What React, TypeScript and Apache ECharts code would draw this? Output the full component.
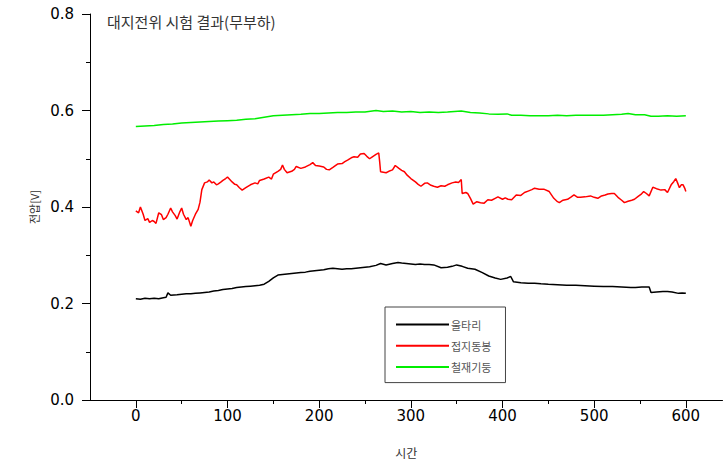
import React, { useEffect, useRef } from "react";
import * as echarts from "echarts";

const chartTitle = "대지전위 시험 결과(무부하)";
const seriesNames = ["울타리", "접지동봉", "철재기둥"];
const xAxisName = "시간";
const yAxisName = "전압[V]";
const xMajorTicks = [0, 100, 200, 300, 400, 500, 600];
const xMinorTicks = [50, 150, 250, 350, 450, 550];

// 울타리 (black)
const fenceData: [number, number][] = [
  [0, 0.21], [5, 0.209], [10, 0.211], [15, 0.21], [20, 0.211], [25, 0.21], [30, 0.212], [33, 0.213],
  [35, 0.222], [38, 0.217], [45, 0.218], [50, 0.219], [55, 0.22], [60, 0.22], [65, 0.221], [70, 0.222],
  [75, 0.223], [80, 0.224], [85, 0.226], [90, 0.227], [95, 0.229], [100, 0.23], [105, 0.231], [110, 0.233],
  [115, 0.234], [120, 0.235], [125, 0.236], [130, 0.237], [135, 0.238], [140, 0.24], [145, 0.246],
  [150, 0.253], [155, 0.259], [160, 0.26], [165, 0.261], [170, 0.262], [175, 0.263], [180, 0.264],
  [185, 0.265], [190, 0.267], [195, 0.268], [200, 0.269], [205, 0.27], [210, 0.272], [215, 0.273],
  [220, 0.272], [225, 0.271], [230, 0.272], [235, 0.272], [240, 0.273], [245, 0.274], [250, 0.275],
  [255, 0.276], [262, 0.279], [267, 0.283], [273, 0.28], [280, 0.283], [286, 0.285], [290, 0.284],
  [295, 0.283], [300, 0.282], [305, 0.281], [310, 0.282], [315, 0.281], [320, 0.281], [325, 0.28],
  [333, 0.274], [340, 0.275], [345, 0.277], [350, 0.28], [356, 0.277], [362, 0.273], [370, 0.271],
  [378, 0.264], [385, 0.257], [392, 0.253], [398, 0.25], [405, 0.253], [409, 0.256], [412, 0.245],
  [420, 0.243], [428, 0.242], [435, 0.242], [442, 0.241], [450, 0.24], [460, 0.239], [470, 0.238],
  [480, 0.238], [490, 0.237], [500, 0.236], [510, 0.235], [520, 0.235], [530, 0.234], [540, 0.233],
  [545, 0.233], [552, 0.234], [560, 0.234], [562, 0.223], [568, 0.224], [575, 0.225], [580, 0.225],
  [585, 0.224], [592, 0.221], [596, 0.222], [600, 0.221],
];

// 접지동봉 (red)
const rodData: [number, number][] = [
  [0, 0.392], [3, 0.388], [5, 0.4], [8, 0.385], [10, 0.372], [13, 0.376], [15, 0.368], [18, 0.372],
  [20, 0.37], [22, 0.366], [25, 0.388], [28, 0.384], [30, 0.374], [33, 0.378], [35, 0.385], [38, 0.398],
  [40, 0.39], [43, 0.382], [45, 0.375], [48, 0.39], [50, 0.398], [52, 0.385], [55, 0.374], [57, 0.378],
  [60, 0.36], [62, 0.372], [65, 0.385], [68, 0.395], [70, 0.41], [72, 0.436], [75, 0.45], [78, 0.452],
  [80, 0.456], [83, 0.45], [85, 0.452], [88, 0.446], [90, 0.448], [93, 0.452], [95, 0.455], [98, 0.459],
  [100, 0.462], [103, 0.456], [105, 0.452], [108, 0.447], [110, 0.446], [113, 0.44], [116, 0.435],
  [120, 0.44], [125, 0.446], [130, 0.45], [133, 0.448], [135, 0.455], [140, 0.458], [145, 0.462],
  [148, 0.458], [150, 0.468], [155, 0.474], [158, 0.478], [160, 0.487], [162, 0.478], [165, 0.471],
  [170, 0.474], [173, 0.478], [175, 0.484], [180, 0.48], [185, 0.483], [190, 0.488], [193, 0.492],
  [196, 0.486], [200, 0.485], [205, 0.483], [208, 0.478], [211, 0.477], [215, 0.482], [220, 0.489],
  [225, 0.49], [228, 0.494], [231, 0.497], [235, 0.502], [238, 0.504], [242, 0.503], [245, 0.51],
  [249, 0.511], [252, 0.505], [255, 0.5], [258, 0.504], [262, 0.509], [265, 0.512], [266, 0.494],
  [267, 0.473], [270, 0.472], [273, 0.471], [276, 0.474], [280, 0.477], [283, 0.486], [287, 0.48],
  [290, 0.476], [293, 0.473], [296, 0.466], [300, 0.459], [305, 0.452], [308, 0.447], [311, 0.443],
  [315, 0.449], [318, 0.45], [322, 0.445], [325, 0.443], [329, 0.441], [333, 0.444], [337, 0.443],
  [340, 0.446], [345, 0.45], [349, 0.452], [352, 0.451], [355, 0.457], [356, 0.428], [360, 0.43],
  [362, 0.428], [365, 0.418], [368, 0.406], [372, 0.411], [376, 0.409], [380, 0.408], [384, 0.415],
  [388, 0.414], [392, 0.418], [395, 0.421], [400, 0.416], [403, 0.419], [406, 0.416], [410, 0.415],
  [415, 0.425], [420, 0.424], [424, 0.43], [428, 0.433], [432, 0.436], [435, 0.439], [440, 0.437],
  [445, 0.437], [451, 0.432], [456, 0.418], [460, 0.411], [462, 0.409], [466, 0.414], [471, 0.416],
  [475, 0.421], [478, 0.425], [482, 0.42], [485, 0.42], [490, 0.421], [496, 0.423], [500, 0.42],
  [504, 0.418], [508, 0.423], [512, 0.425], [515, 0.427], [519, 0.428], [522, 0.428], [526, 0.42],
  [530, 0.414], [533, 0.409], [537, 0.412], [541, 0.414], [544, 0.416], [548, 0.422], [551, 0.426],
  [554, 0.432], [557, 0.428], [560, 0.423], [564, 0.441], [568, 0.438], [573, 0.435], [577, 0.436],
  [580, 0.43], [584, 0.446], [587, 0.453], [589, 0.459], [591, 0.45], [593, 0.44], [595, 0.446],
  [597, 0.446], [599, 0.438], [600, 0.432],
];

// 철재기둥 (green)
const poleData: [number, number][] = [
  [0, 0.567], [10, 0.568], [20, 0.569], [30, 0.571], [40, 0.572], [50, 0.574], [60, 0.575], [70, 0.576],
  [80, 0.577], [90, 0.578], [100, 0.579], [110, 0.58], [120, 0.582], [130, 0.583], [140, 0.586],
  [150, 0.589], [160, 0.59], [170, 0.591], [180, 0.592], [190, 0.594], [200, 0.594], [210, 0.595],
  [220, 0.596], [230, 0.596], [240, 0.597], [250, 0.597], [262, 0.6], [270, 0.598], [280, 0.599],
  [290, 0.597], [300, 0.598], [310, 0.596], [320, 0.597], [330, 0.596], [340, 0.597], [355, 0.599],
  [365, 0.596], [375, 0.595], [385, 0.593], [395, 0.592], [405, 0.593], [410, 0.59], [420, 0.59],
  [430, 0.589], [440, 0.589], [450, 0.589], [460, 0.59], [470, 0.589], [480, 0.59], [490, 0.59],
  [500, 0.59], [510, 0.59], [520, 0.591], [530, 0.592], [537, 0.594], [545, 0.591], [555, 0.591],
  [562, 0.588], [570, 0.588], [580, 0.589], [590, 0.588], [600, 0.589],
];

const seriesColors = ["#000000", "#ff0000", "#00ee00"];

export default function App() {
  const ref = useRef<HTMLDivElement>(null);

  useEffect(() => {
    if (!ref.current) return;
    const chart = echarts.init(ref.current, undefined, { renderer: "svg" });
    const axisColor = "#000";
    const labelFont = { fontFamily: "DejaVu Sans", fontSize: 15, color: "#000" };
    const hangulFont = "Noto Sans CJK KR";
    const datasets = [fenceData, rodData, poleData];

    chart.setOption({
      animation: false,
      backgroundColor: "#ffffff",
      title: {
        text: chartTitle,
        left: 107,
        top: 14,
        padding: 0,
        textStyle: { fontFamily: hangulFont, fontSize: 15, fontWeight: "normal", color: "#333" },
      },
      legend: {
        orient: "vertical",
        left: 385,
        top: 307,
        data: seriesNames,
        itemWidth: 53,
        itemHeight: 14,
        itemGap: 10,
        padding: [12, 14, 10, 10],
        borderColor: "#444",
        borderWidth: 1,
        backgroundColor: "#fff",
        itemStyle: { opacity: 0 },
        textStyle: { fontFamily: hangulFont, fontSize: 11, color: "#555", padding: [0, 0, 0, -3] },
      },
      grid: { left: 90, right: 1.5, top: 14, bottom: 65, containLabel: false },
      xAxis: [
        {
          type: "value",
          min: -50,
          max: 640,
          position: "bottom",
          axisLine: { show: true, onZero: false, lineStyle: { color: axisColor, width: 1 } },
          axisTick: { show: true, customValues: xMajorTicks, length: 8, lineStyle: { color: axisColor } },
          axisLabel: { customValues: xMajorTicks, margin: 8, ...labelFont },
          splitLine: { show: false },
          name: xAxisName,
          nameLocation: "middle",
          nameGap: 46,
          nameTextStyle: { fontFamily: hangulFont, fontSize: 12, color: "#333" },
        },
        {
          type: "value",
          min: -50,
          max: 640,
          position: "bottom",
          axisLine: { show: false, onZero: false },
          axisTick: { show: true, customValues: xMinorTicks, length: 4, lineStyle: { color: axisColor } },
          axisLabel: { show: false },
          splitLine: { show: false },
        },
      ],
      yAxis: {
        type: "value",
        min: 0,
        max: 0.8,
        interval: 0.2,
        position: "left",
        axisLine: { show: true, onZero: false, lineStyle: { color: axisColor, width: 1 } },
        axisTick: { show: true, length: 8, lineStyle: { color: axisColor } },
        minorTick: { show: true, splitNumber: 2, length: 4, lineStyle: { color: axisColor } },
        splitLine: { show: false },
        minorSplitLine: { show: false },
        axisLabel: { margin: 16, formatter: (v: number) => v.toFixed(1), ...labelFont },
        name: yAxisName,
        nameLocation: "middle",
        nameRotate: 90,
        nameGap: 51,
        nameTextStyle: { fontFamily: hangulFont, fontSize: 11, color: "#333" },
      },
      series: seriesNames.map((name, i) => ({
        name,
        type: "line",
        xAxisIndex: 0,
        data: datasets[i],
        symbol: "none",
        showSymbol: false,
        color: seriesColors[i],
        lineStyle: { color: seriesColors[i], width: 1.5 },
      })),
    });

    return () => chart.dispose();
  }, []);

  return (
    <div
      ref={ref}
      style={{ position: "fixed", left: 0, top: 0, width: 724, height: 465, background: "#fff" }}
    />
  );
}
